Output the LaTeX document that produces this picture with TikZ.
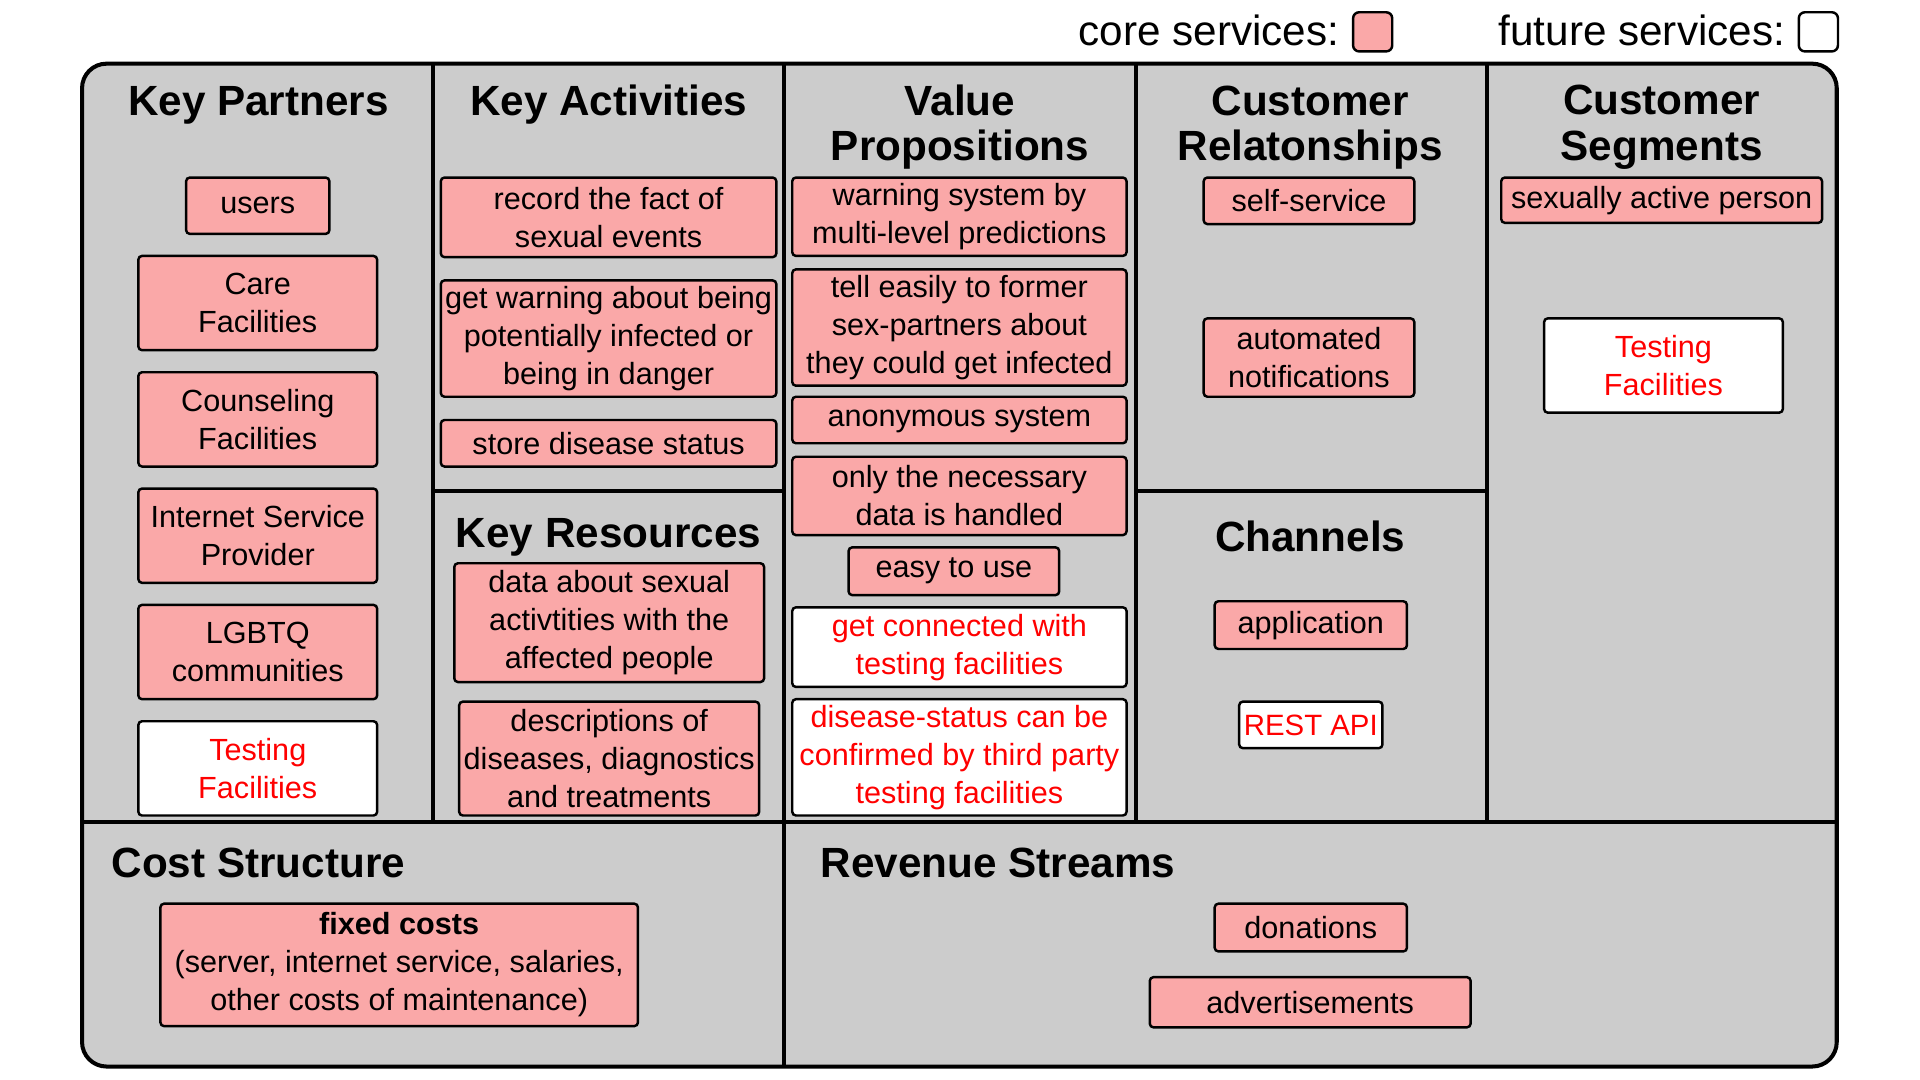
\documentclass[tikz,border=0pt]{standalone}
\usepackage{fontspec}
\setmainfont{Liberation Sans}
\definecolor{panelgray}{HTML}{CCCCCC}
\definecolor{corepink}{HTML}{FAA8A8}
\definecolor{futurered}{HTML}{FF0000}
\tikzset{
  boxbase/.style={draw=black, line width=2pt, rounded corners=3pt, inner sep=0pt,
    align=center, font=\fontsize{25}{31}\selectfont},
  core/.style={boxbase, fill=corepink, text=black},
  future/.style={boxbase, fill=white, text=futurered},
  paneltitle/.style={inner sep=0pt, align=center, font=\fontsize{34.5}{37}\selectfont\bfseries},
  legendtext/.style={inner sep=0pt, font=\fontsize{34.5}{40}\selectfont},
  legendbox/.style={draw=black, line width=2pt, rounded corners=5pt, minimum width=32pt, minimum height=32pt, inner sep=0pt},
  frameline/.style={line width=3.3pt, black},
}
\begin{document}
\begin{tikzpicture}[x=1pt,y=-1pt]
\useasboundingbox (0,0) rectangle (1568,882);
% frame
\fill[panelgray, rounded corners=20pt] (67,52) rectangle (1500,871);
\draw[frameline] (354,52) -- (354,671);
\draw[frameline] (640,52) -- (640,871);
\draw[frameline] (928,52) -- (928,671);
\draw[frameline] (1214,52) -- (1214,671);
\draw[frameline] (67,671) -- (1500,671);
\draw[frameline] (354,401) -- (640,401);
\draw[frameline] (928,401) -- (1214,401);
\draw[frameline, rounded corners=20pt] (67,52) rectangle (1500,871);

% legend
\node[legendtext, anchor=base east] (coretxt) at (1094,37) {core services:};
\node[legendbox, fill=corepink] (corekey) at (1121,26) {};
\node[legendtext, anchor=base east] (futtxt) at (1458,37) {future services:};
\node[legendbox, fill=white] (futkey) at (1485,26) {};

% titles
\node[paneltitle, anchor=base] (tkp) at (211,94) {Key Partners};
\node[paneltitle, anchor=base] (tka) at (497,94) {Key Activities};
\node[paneltitle] (tvp) at (784,104) {Value\\Propositions};
\node[paneltitle] (tcr) at (1070,104) {Customer\\Relatonships};
\node[paneltitle] (tcs) at (1357,104) {Customer\\Segments};
\node[paneltitle, anchor=base] (tkr) at (497,447) {Key Resources};
\node[paneltitle, anchor=base] (tch) at (1070,450) {Channels};
\node[paneltitle, anchor=base west] (tcost) at (91,717) {Cost Structure};
\node[paneltitle, anchor=base west] (trev) at (670,717) {Revenue Streams};

% key partners
\node[core, minimum width=117pt, minimum height=46pt] (users) at (210.5,168) {users};
\node[core, minimum width=195pt, minimum height=77pt] (care) at (210.5,247.5) {Care\\Facilities};
\node[core, minimum width=195pt, minimum height=77pt] (counsel) at (210.5,342.5) {Counseling\\Facilities};
\node[core, minimum width=195pt, minimum height=77pt] (isp) at (210.5,437.5) {Internet Service\\Provider};
\node[core, minimum width=195pt, minimum height=77pt] (lgbtq) at (210.5,532.5) {LGBTQ\\communities};
\node[future, minimum width=195pt, minimum height=77pt] (testkp) at (210.5,627.5) {Testing\\Facilities};

% key activities
\node[core, minimum width=274pt, minimum height=65pt] (record) at (497,177.5) {record the fact of\\sexual events};
\node[core, minimum width=274pt, minimum height=95pt] (getwarn) at (497,276.5) {get warning about being\\potentially infected or\\being in danger};
\node[core, minimum width=274pt, minimum height=38pt] (store) at (497,362) {store disease status};

% key resources
\node[core, minimum width=253pt, minimum height=97pt] (data) at (497.5,508.5) {data about sexual\\activtities with the\\affected people};
\node[core, minimum width=245pt, minimum height=93pt] (descr) at (497.5,619.5) {descriptions of\\diseases, diagnostics\\and treatments};

% value propositions
\node[core, minimum width=273pt, minimum height=64pt] (warnsys) at (783.5,177) {warning system by\\multi-level predictions};
\node[core, minimum width=273pt, minimum height=95pt] (tell) at (783.5,267.5) {tell easily to former\\sex-partners about\\they could get infected};
\node[core, minimum width=273pt, minimum height=38pt] (anon) at (783.5,343) {anonymous system};
\node[core, minimum width=273pt, minimum height=64pt] (onlynec) at (783.5,405) {only the necessary\\data is handled};
\node[core, minimum width=172pt, minimum height=39pt] (easy) at (779,466.5) {easy to use};
\node[future, minimum width=273pt, minimum height=65pt] (connected) at (783.5,528.5) {get connected with\\testing facilities};
\node[future, minimum width=273pt, minimum height=95pt] (confirmed) at (783.5,618.5) {disease-status can be\\confirmed by third party\\testing facilities};

% customer relationships
\node[core, minimum width=172pt, minimum height=38pt] (self) at (1069,164) {self-service};
\node[core, minimum width=172pt, minimum height=64pt] (autonot) at (1069,292) {automated\\notifications};

% channels
\node[core, minimum width=157pt, minimum height=39pt] (app) at (1070.5,510.5) {application};
\node[future, minimum width=117pt, minimum height=38pt, font=\fontsize{24}{31}\selectfont] (rest) at (1070.5,592) {REST API};

% customer segments
\node[core, minimum width=262pt, minimum height=37pt] (sexact) at (1357,163.5) {sexually active person};
\node[future, minimum width=195pt, minimum height=77pt] (testcs) at (1358.5,298.5) {Testing\\Facilities};

% cost structure
\node[core, minimum width=390pt, minimum height=100pt] (fixed) at (326,788) {{\bfseries fixed costs}\\(server, internet service, salaries,\\other costs of maintenance)};

% revenue streams
\node[core, minimum width=157pt, minimum height=39pt] (donations) at (1070.5,757.5) {donations};
\node[core, minimum width=262pt, minimum height=41pt] (ads) at (1070,818.5) {advertisements};
\end{tikzpicture}
\end{document}
